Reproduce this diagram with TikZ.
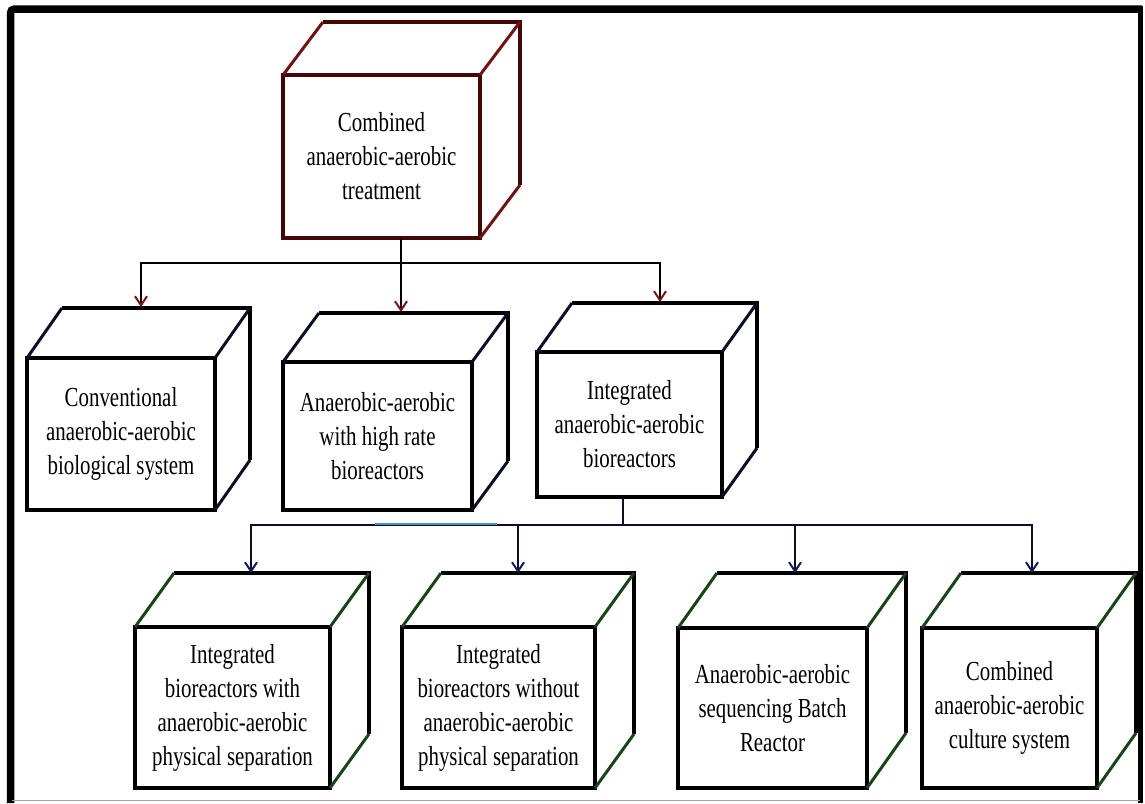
\documentclass[tikz,border=0pt]{standalone}
\usepackage{fontspec}
\setmainfont{Liberation Serif}[FakeStretch=0.76]
\usetikzlibrary{arrows.meta,calc}
\definecolor{maroonA}{RGB}{70,6,6}
\definecolor{maroonB}{RGB}{115,18,18}
\definecolor{navyA}{RGB}{10,14,38}
\definecolor{greenA}{RGB}{22,70,22}
\definecolor{arrred}{RGB}{125,18,18}
\definecolor{arrnavy}{RGB}{15,25,90}
\definecolor{hiblue}{RGB}{70,145,205}
\newcommand{\mkcube}[5]{%
  \draw[line width=4pt, draw=#5, line join=miter]
    ($(#1.north west)+(#2,#3)$) -- ($(#1.north east)+(#2,#3)$) -- ($(#1.south east)+(#2,#3)$);
  \draw[line width=3pt, draw=#4]
    (#1.north west) -- ++(#2,#3)
    (#1.north east) -- ++(#2,#3)
    (#1.south east) -- ++(#2,#3);
}
\begin{document}
\begin{tikzpicture}[x=1pt,y=-1pt,
  face/.style={draw, line width=4pt, fill=white, outer sep=0pt, inner sep=0pt,
    align=center, font=\fontsize{27.5}{34}\selectfont},
  conn/.style={line width=2pt, draw=black},
  arrA/.style={-{Straight Barb[length=9pt,width=12pt,line width=2pt,color=arrred]}},
  arrB/.style={-{Straight Barb[length=9pt,width=12pt,line width=2pt,color=arrnavy]}}
]
\useasboundingbox (0,0) rectangle (1145,803);
\fill[white] (0,0) rectangle (1145,803);

% frame
\draw[line width=7.5pt, rounded corners=4pt] (10.5,803) -- (10.5,9) -- (1142,9);
\draw[line width=5.5pt] (1140.5,6) -- (1140.5,803);
\draw[gray!70, line width=1.5pt] (12,800.5) -- (1140,800.5);

% top cube
\node[face, draw=maroonA, minimum width=197pt, minimum height=163pt] (T) at (381.5,156.5)
  {Combined\\anaerobic-aerobic\\treatment};
\mkcube{T}{40}{-53}{maroonB}{maroonA}

% second row
\node[face, minimum width=188pt, minimum height=152pt] (A) at (121,434)
  {Conventional\\anaerobic-aerobic\\biological system};
\mkcube{A}{35}{-50}{navyA}{black}
\node[face, minimum width=189pt, minimum height=148pt] (B) at (377.5,436)
  {Anaerobic-aerobic\\with high rate\\bioreactors};
\mkcube{B}{36}{-49}{navyA}{black}
\node[face, minimum width=185pt, minimum height=145pt] (C) at (629.5,424.5)
  {Integrated\\anaerobic-aerobic\\bioreactors};
\mkcube{C}{35}{-49}{navyA}{black}

% third row
\node[face, minimum width=195pt, minimum height=161pt] (D) at (232.5,707.5)
  {Integrated\\bioreactors with\\anaerobic-aerobic\\physical separation};
\mkcube{D}{39}{-54}{greenA}{black}
\node[face, minimum width=193pt, minimum height=161pt] (E) at (498.5,707.5)
  {Integrated\\bioreactors without\\anaerobic-aerobic\\physical separation};
\mkcube{E}{39}{-54}{greenA}{black}
\node[face, minimum width=189pt, minimum height=160pt] (F) at (772.5,708)
  {Anaerobic-aerobic\\sequencing Batch\\Reactor};
\mkcube{F}{39}{-55}{greenA}{black}
\node[face, minimum width=175pt, minimum height=160pt] (G) at (1009.5,708)
  {Combined\\anaerobic-aerobic\\culture system};
\mkcube{G}{39}{-55}{greenA}{black}

% level 1 connectors
\coordinate (j1) at (401,263);
\coordinate (Ain) at (141,307);
\coordinate (Bin) at (401,312);
\coordinate (Cin) at (660,302);
\draw[conn] (T.south -| j1) -- (j1);
\draw[conn, arrA] (j1) -| (Ain);
\draw[conn, arrA] (j1) -- (Bin);
\draw[conn, arrA] (j1) -| (Cin);

% level 2 connectors
\coordinate (j2) at (623,525);
\coordinate (Din) at (251,573);
\coordinate (Ein) at (518,573);
\coordinate (Fin) at (795,573);
\coordinate (Gin) at (1032,573);
\draw[conn, draw=navyA] (C.south -| j2) -- (j2);
\draw[conn, draw=navyA, arrB] (j2) -| (Din);
\draw[conn, draw=navyA, arrB] (j2) -| (Ein);
\draw[conn, draw=navyA, arrB] (j2) -| (Fin);
\draw[conn, draw=navyA, arrB] (j2) -| (Gin);
\draw[hiblue, line width=1.2pt] (375,524) -- (497,524);
\end{tikzpicture}
\end{document}
